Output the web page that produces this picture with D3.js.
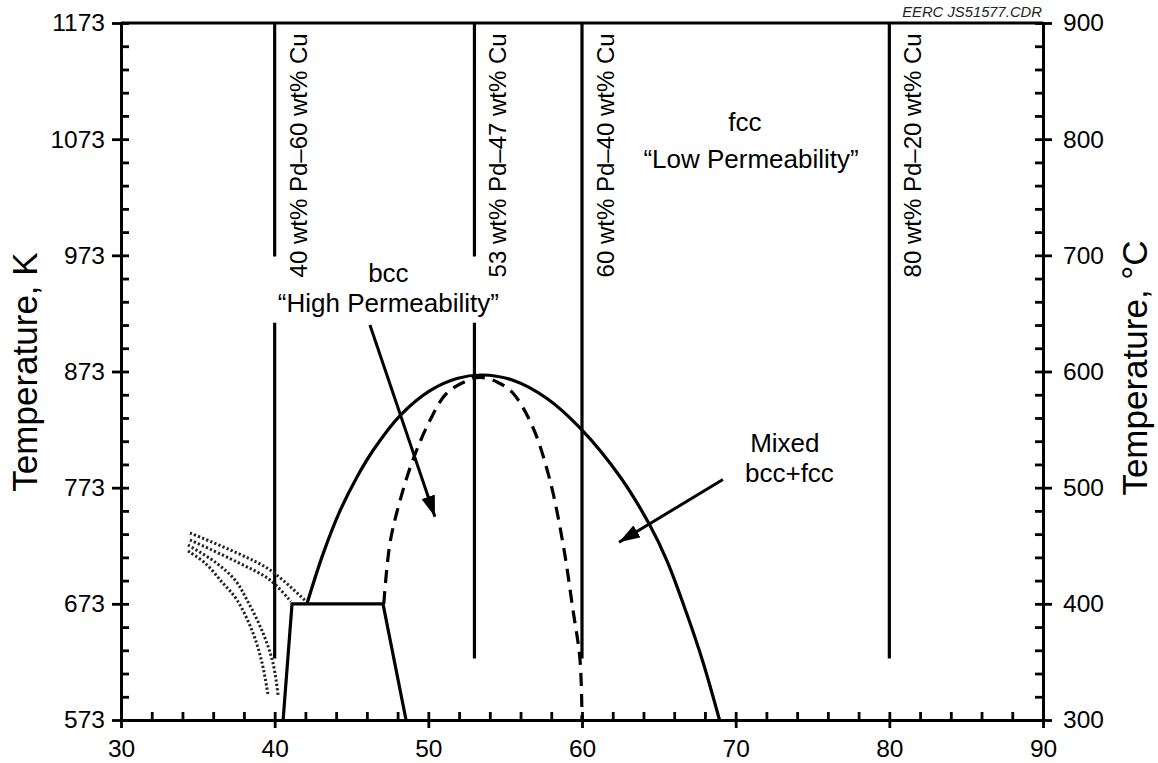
<!DOCTYPE html>
<html>
<head>
<meta charset="utf-8">
<script src="https://cdn.jsdelivr.net/npm/d3@7"></script>
<style>
  body { margin: 0; background: #fff; }
  svg { display: block; font-family: "Liberation Sans", Arial, sans-serif; }
</style>
</head>
<body>
<svg id="chart" width="1158" height="763"></svg>
<script>
// axis ticks
const xTicks = [30, 40, 50, 60, 70, 80, 90];
const xMinor = d3.range(30, 90.01, 2);
const kTicks = [573, 673, 773, 873, 973, 1073, 1173];
const kMinor = d3.range(573, 1173.01, 20);
const cTicks = [300, 400, 500, 600, 700, 800, 900];
const cMinor = d3.range(300, 900.01, 20);

// alloy composition lines (wt% Pd) and their segments in K
const alloyX = [40, 53, 60, 80];
const alloyLabels = ['40 wt% Pd\u201360 wt% Cu', '53 wt% Pd\u201347 wt% Cu', '60 wt% Pd\u201340 wt% Cu', '80 wt% Pd\u201320 wt% Cu'];
const alloySegments = [
  [[1173, 972], [915, 626]],
  [[1173, 972], [915, 626]],
  [[1173, 626]],
  [[1173, 626]]
];

// phase boundaries [wt% Pd, K]
const outerDome = [[42.1, 673], [43.15, 716], [44.25, 753], [45.35, 782], [46.4, 805], [48.16, 835],
  [50.11, 856.5], [51.86, 867], [53.5, 870], [55.5, 865.5], [57.7, 850], [59.9, 824],
  [62.5, 782], [64.4, 741], [65.53, 710], [66.83, 664], [67.87, 623], [68.95, 573]];
const innerDome = [[47.1, 673], [47.5, 725], [48.16, 762], [49.0, 797], [50.11, 831], [51.21, 854.5],
  [52.71, 866], [53.4, 868], [54.47, 864], [55.5, 854.5], [56.8, 825], [57.9, 780], [58.76, 725],
  [59.41, 668], [59.87, 625], [60.0, 573]];
const lowPhase = [[40.55, 573], [41.13, 673], [47.05, 673], [48.55, 573]];
const dotted = [
  [[34.49, 734], [37.55, 716.8], [39.7, 702.1], [42.05, 675]],
  [[34.49, 728], [37.55, 709], [39.7, 693.5], [41.05, 675]],
  [[34.36, 723.6], [36.12, 709], [37.42, 693.5], [38.2, 676.3], [39.24, 647.9], [39.89, 622.1], [40.22, 594.5]],
  [[34.36, 718.5], [35.47, 708.1], [36.57, 691.8], [37.55, 676.3], [38.59, 647.9], [39.18, 622.1], [39.57, 594.5]]
];
const arrows = [
  [[46.2, 913], [50.43, 748]],
  [[69.17, 780], [62.41, 726]]
];

const svg = d3.select('#chart');
const plotLeft = 121, plotRight = 1043, plotTop = 23, plotBottom = 720;
const fontFamily = '"Liberation Sans", Arial, sans-serif';

const x = d3.scaleLinear().domain([30, 90]).range([plotLeft, plotRight]);
const yK = d3.scaleLinear().domain([573, 1173]).range([plotBottom, plotTop]);
const yC = d3.scaleLinear().domain([300, 900]).range([plotBottom, plotTop]);

const defs = svg.append('defs');
defs.append('marker')
  .attr('id', 'head')
  .attr('viewBox', '0 -7 21 14')
  .attr('refX', 21).attr('refY', 0)
  .attr('markerWidth', 21).attr('markerHeight', 14)
  .attr('markerUnits', 'userSpaceOnUse')
  .attr('orient', 'auto')
  .append('path')
  .attr('d', 'M0,-7L21,0L0,7Z')
  .attr('fill', '#000');

function styleAxis(g, labels) {
  g.attr('font-family', fontFamily);
  g.selectAll('.domain').attr('stroke', '#000').attr('stroke-width', 3);
  g.selectAll('.tick line').attr('stroke', '#000').attr('stroke-width', 2.8);
  if (labels) {
    g.selectAll('.tick text').attr('fill', '#000').style('font-size', '24.5px');
  } else {
    g.selectAll('.tick text').remove();
  }
}

// top frame line
svg.append('line')
  .attr('x1', plotLeft).attr('x2', plotRight).attr('y1', plotTop).attr('y2', plotTop)
  .attr('stroke', '#000').attr('stroke-width', 3);

// bottom axis: inner ticks then outer major ticks with labels
svg.append('g').attr('transform', `translate(0,${plotBottom})`)
  .call(d3.axisBottom(x).tickValues(xMinor).tickSize(-8).tickSizeOuter(0).tickFormat(''))
  .call(g => styleAxis(g, false));
svg.append('g').attr('transform', `translate(0,${plotBottom})`)
  .call(d3.axisBottom(x).tickValues(xTicks).tickSize(8).tickSizeOuter(0).tickPadding(12).tickFormat(d3.format('d')))
  .call(g => styleAxis(g, true));

// left axis (K)
svg.append('g').attr('transform', `translate(${plotLeft},0)`)
  .call(d3.axisLeft(yK).tickValues(kMinor).tickSize(-8).tickSizeOuter(0).tickFormat(''))
  .call(g => styleAxis(g, false));
svg.append('g').attr('transform', `translate(${plotLeft},0)`)
  .call(d3.axisLeft(yK).tickValues(kTicks).tickSize(9).tickSizeOuter(0).tickPadding(7).tickFormat(d3.format('d')))
  .call(g => styleAxis(g, true));

// right axis (°C)
svg.append('g').attr('transform', `translate(${plotRight},0)`)
  .call(d3.axisRight(yC).tickValues(cMinor).tickSize(-8).tickSizeOuter(0).tickFormat(''))
  .call(g => styleAxis(g, false));
svg.append('g').attr('transform', `translate(${plotRight},0)`)
  .call(d3.axisRight(yC).tickValues(cTicks).tickSize(9).tickSizeOuter(0).tickPadding(11).tickFormat(d3.format('d')))
  .call(g => styleAxis(g, true));

svg.selectAll('.domain').attr('stroke-linecap', 'square');

// axis titles
svg.append('text')
  .attr('transform', 'translate(37,372) rotate(-90)')
  .attr('text-anchor', 'middle')
  .style('font-size', '35px')
  .text('Temperature, K');
svg.append('text')
  .attr('transform', 'translate(1147,368) rotate(-90)')
  .attr('text-anchor', 'middle')
  .style('font-size', '35px')
  .text('Temperature, \u00B0C');

svg.append('text')
  .attr('x', plotRight - 1).attr('y', 17)
  .attr('text-anchor', 'end')
  .style('font-size', '14.8px')
  .style('font-style', 'italic')
  .style('fill', '#222')
  .text('EERC JS51577.CDR');

// alloy vertical lines
alloyX.forEach((a, i) => {
  alloySegments[i].forEach(seg => {
    svg.append('line')
      .attr('x1', x(a)).attr('x2', x(a))
      .attr('y1', yK(seg[0])).attr('y2', yK(seg[1]))
      .attr('stroke', '#000').attr('stroke-width', 3.2);
  });
  svg.append('text')
    .attr('transform', `translate(${x(a) + 32},${yK(954)}) rotate(-90)`)
    .style('font-size', '24px')
    .text(alloyLabels[i]);
});

const line = d3.line().x(d => x(d[0])).y(d => yK(d[1]));
const smooth = d3.line().x(d => x(d[0])).y(d => yK(d[1])).curve(d3.curveCatmullRom.alpha(0.5));

// dotted metastable lines
svg.append('g').selectAll('path')
  .data(dotted)
  .enter()
  .append('path')
  .attr('d', smooth)
  .attr('fill', 'none')
  .attr('stroke', '#222')
  .attr('stroke-width', 3)
  .attr('stroke-dasharray', '2.2,2.2');

svg.append('path')
  .attr('d', smooth(outerDome))
  .attr('fill', 'none').attr('stroke', '#000').attr('stroke-width', 3.2);

svg.append('path')
  .attr('d', smooth(innerDome))
  .attr('fill', 'none').attr('stroke', '#000').attr('stroke-width', 3.2)
  .attr('stroke-dasharray', '13,8');

svg.append('path')
  .attr('d', line(lowPhase))
  .attr('fill', 'none').attr('stroke', '#000').attr('stroke-width', 3.2)
  .attr('stroke-linejoin', 'miter');

// arrows
svg.append('g').selectAll('path')
  .data(arrows)
  .enter()
  .append('path')
  .attr('d', line)
  .attr('fill', 'none')
  .attr('stroke', '#000')
  .attr('stroke-width', 3)
  .attr('marker-end', 'url(#head)');

// phase annotations
const notes = [
  ['bcc', 47.4, 950],
  ['\u201CHigh Permeability\u201D', 47.4, 924],
  ['fcc', 70.6, 1080],
  ['\u201CLow Permeability\u201D', 71.0, 1048],
  ['Mixed', 73.2, 804],
  ['bcc+fcc', 73.5, 778]
];
svg.append('g').selectAll('text')
  .data(notes)
  .enter()
  .append('text')
  .attr('x', d => x(d[1]))
  .attr('y', d => yK(d[2]))
  .attr('text-anchor', 'middle')
  .style('font-size', '26px')
  .text(d => d[0]);
</script>
</body>
</html>
